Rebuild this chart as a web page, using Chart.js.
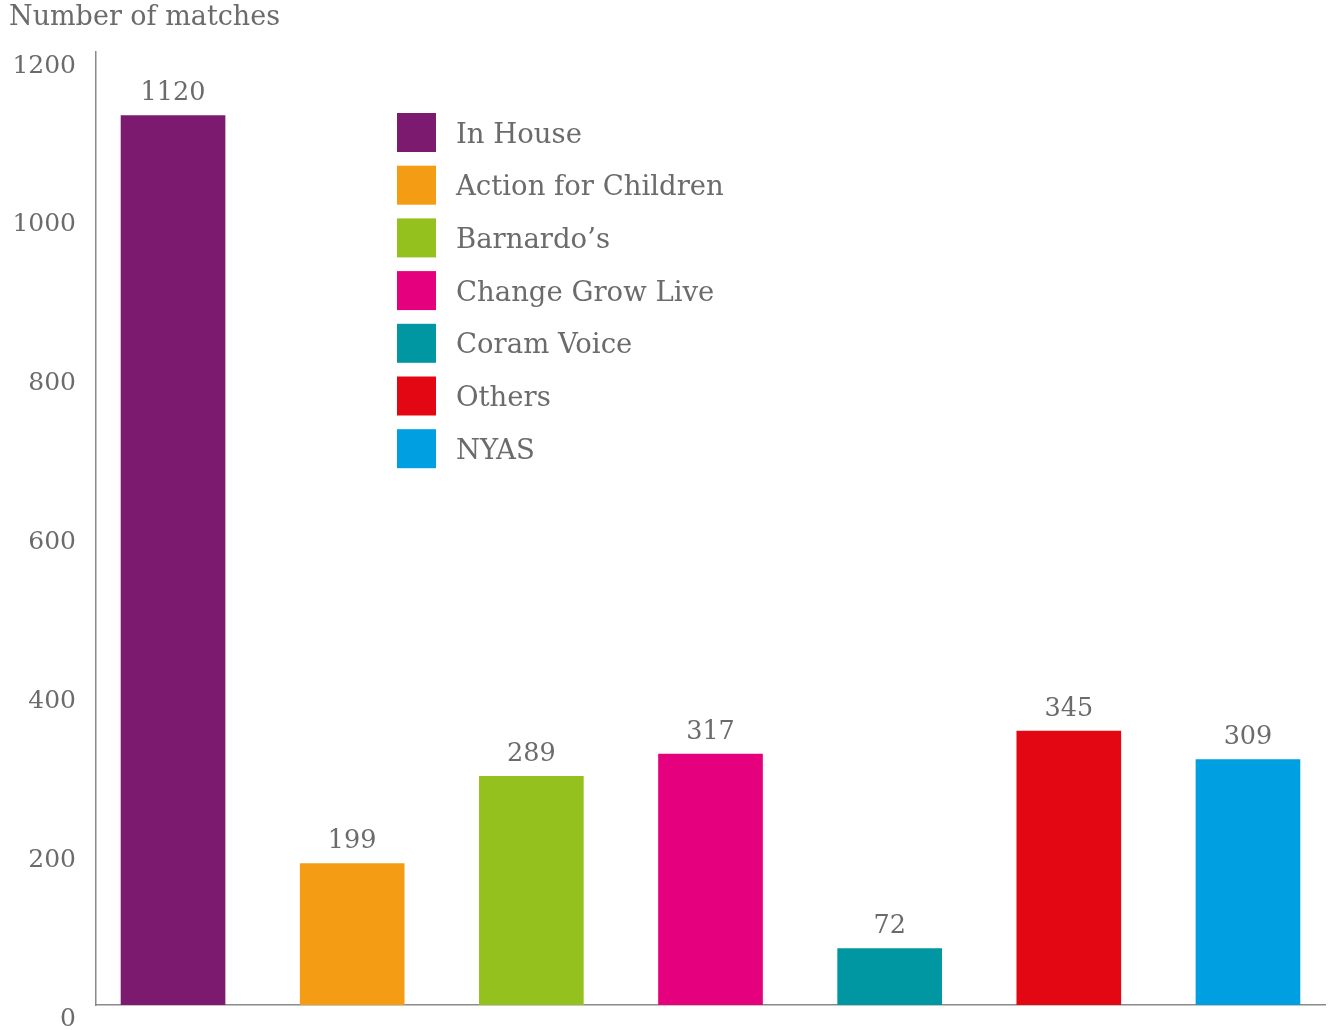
<!DOCTYPE html>
<html>
<head>
<meta charset="utf-8">
<script src="https://cdn.jsdelivr.net/npm/chart.js@4/dist/chart.umd.min.js"></script>
<style>
  html, body { margin: 0; padding: 0; background: #ffffff; }
  #wrap { width: 1331px; height: 1030px; position: relative; }
</style>
</head>
<body>
<div id="wrap"><canvas id="c" width="1331" height="1030"></canvas></div>
<script>
const categories = ["In House", "Action for Children", "Barnardo\u2019s", "Change Grow Live", "Coram Voice", "Others", "NYAS"];
const barValues = [1120, 178, 288, 316, 71, 345, 309];
const valueLabels = ["1120", "199", "289", "317", "72", "345", "309"];
const barColors = ["#7C1A6F", "#F49C13", "#95C11F", "#E5007D", "#0096A2", "#E30613", "#009FE2"];
const yTicks = [0, 200, 400, 600, 800, 1000, 1200];
const yTitle = "Number of matches";

const FONT = "'DejaVu Serif', serif";
const TEXT = "#6b6b6b";
const AXIS = "#8a8a8a";

const titlePlugin = {
  id: 'titleText',
  afterDraw(chart) {
    const ctx = chart.ctx;
    ctx.save();
    ctx.font = "27px " + FONT;
    ctx.fillStyle = TEXT;
    ctx.textAlign = 'left';
    ctx.textBaseline = 'middle';
    ctx.fillText(yTitle, 9, 18);
    ctx.restore();
  }
};

const valueLabelPlugin = {
  id: 'valueLabels',
  afterDatasetsDraw(chart) {
    const ctx = chart.ctx;
    const meta = chart.getDatasetMeta(0);
    ctx.save();
    ctx.font = "25.5px " + FONT;
    ctx.fillStyle = TEXT;
    ctx.textAlign = 'center';
    ctx.textBaseline = 'middle';
    meta.data.forEach((bar, i) => {
      ctx.fillText(valueLabels[i], bar.x, bar.y - 22);
    });
    ctx.restore();
  }
};

const legendPlugin = {
  id: 'customLegend',
  afterDraw(chart) {
    const ctx = chart.ctx;
    ctx.save();
    ctx.font = "27.5px " + FONT;
    ctx.textAlign = 'left';
    ctx.textBaseline = 'middle';
    categories.forEach((name, i) => {
      const top = 113 + i * 52.7;
      ctx.fillStyle = barColors[i];
      ctx.fillRect(397, top, 39, 39);
      ctx.fillStyle = TEXT;
      ctx.fillText(name, 456, top + 22.5);
    });
    ctx.restore();
  }
};

new Chart(document.getElementById('c'), {
  type: 'bar',
  data: {
    datasets: [{
      data: barValues.map((v, i) => ({ x: i, y: v })),
      backgroundColor: barColors,
      borderWidth: 0,
      barThickness: 104
    }]
  },
  options: {
    responsive: false,
    animation: false,
    devicePixelRatio: 1,
    layout: { padding: { top: 52, bottom: 25, right: 6, left: 0 } },
    plugins: { legend: { display: false }, tooltip: { enabled: false }, title: { display: false } },
    scales: {
      x: {
        type: 'linear',
        min: -0.43,
        max: 6.43,
        offset: false,
        grid: { display: false, drawTicks: false },
        border: { display: true, color: AXIS, width: 1.5 },
        ticks: { display: false },
        afterFit(scale) { scale.height = 0; scale.paddingLeft = 0; scale.paddingRight = 0; }
      },
      y: {
        min: 0,
        max: 1200,
        afterBuildTicks(scale) { scale.ticks = yTicks.map(v => ({ value: v })); },
        grid: { display: false, drawTicks: false },
        border: { display: true, color: AXIS, width: 1.5 },
        ticks: {
          color: TEXT,
          font: { family: FONT, size: 25 },
          padding: 20,
          labelOffset: 14,
          callback: (v) => String(v)
        },
        afterFit(scale) { scale.width = 96; scale.paddingTop = 0; scale.paddingBottom = 0; }
      }
    }
  },
  plugins: [titlePlugin, valueLabelPlugin, legendPlugin]
});
</script>
</body>
</html>
